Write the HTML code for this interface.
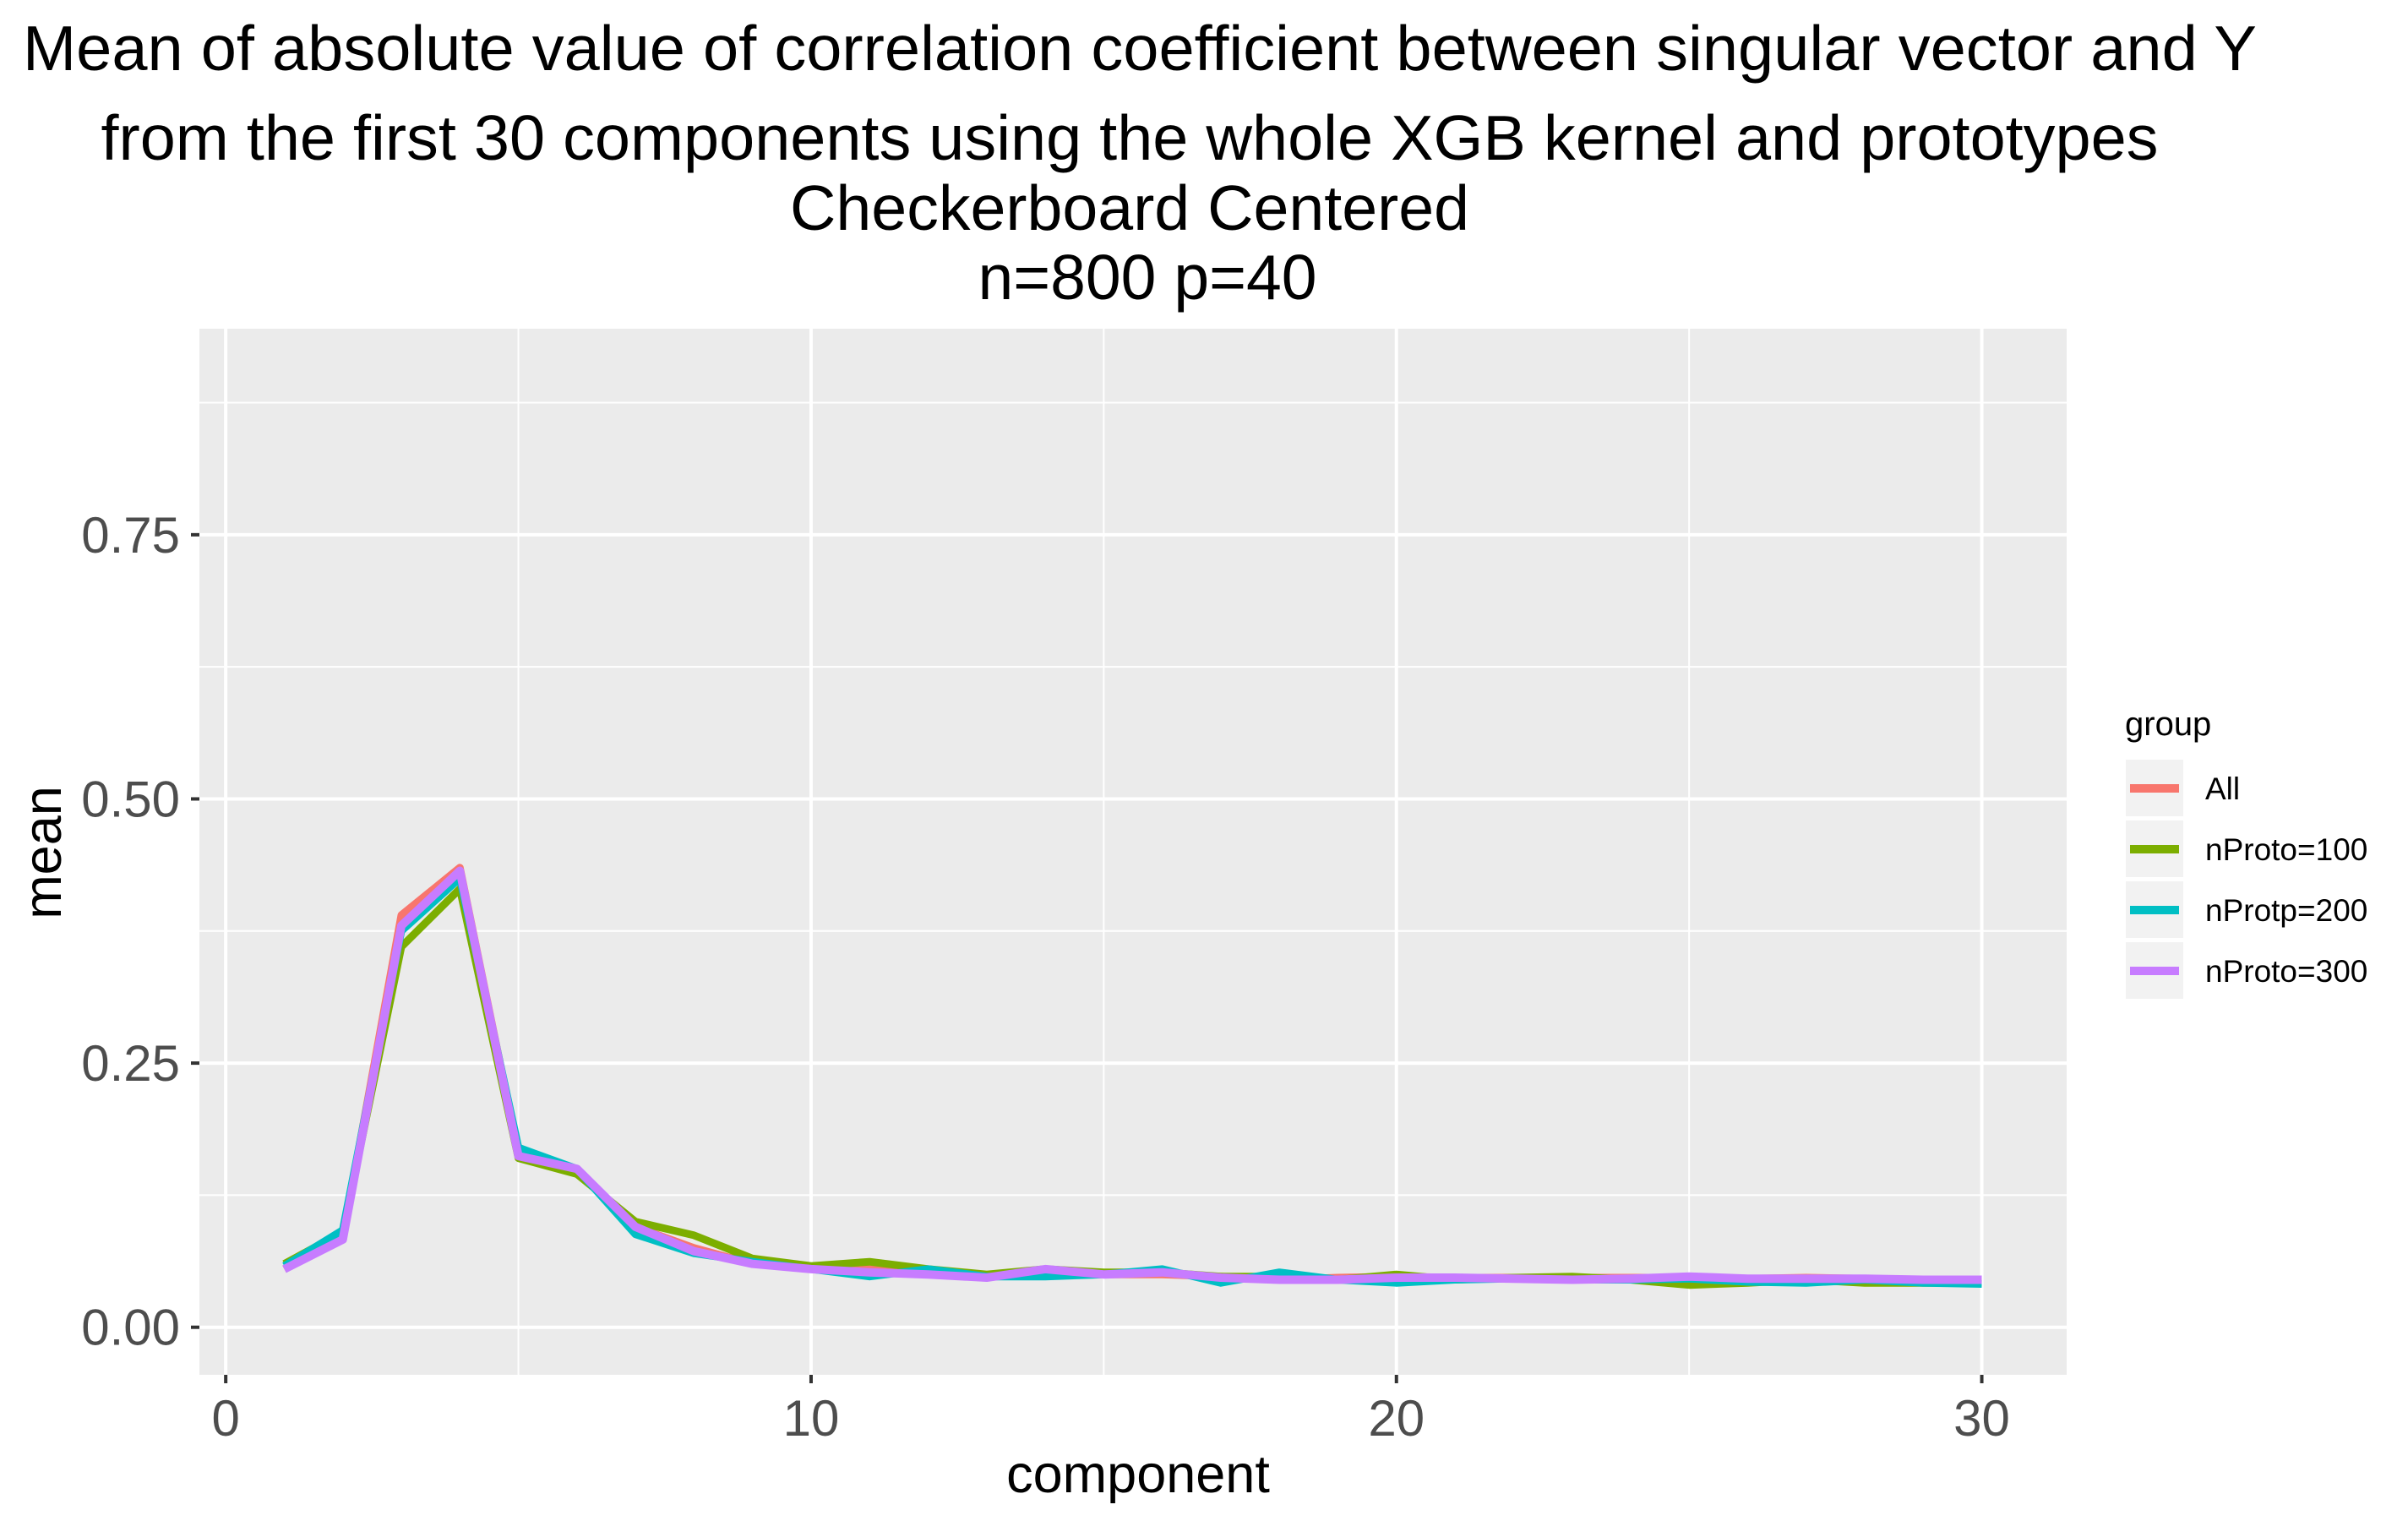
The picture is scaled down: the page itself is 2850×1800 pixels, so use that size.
<!DOCTYPE html>
<html><head><meta charset="utf-8"><style>
html,body{margin:0;padding:0;background:#fff;}
svg{display:block;font-family:"Liberation Sans",Arial,sans-serif;}
</style></head><body>
<svg id="chart" width="2850" height="1800" viewBox="0 0 2850 1800" xmlns="http://www.w3.org/2000/svg">
<rect x="0" y="0" width="2850" height="1800" fill="#fff"/>
<g font-size="75" fill="#000" text-anchor="middle">
<text x="1349" y="83" textLength="2644" lengthAdjust="spacingAndGlyphs">Mean of absolute value of correlation coefficient between singular vector and Y</text>
<text x="1337" y="189" textLength="2435" lengthAdjust="spacingAndGlyphs">from the first 30 components using the whole XGB kernel and prototypes</text>
<text x="1337" y="272" textLength="804" lengthAdjust="spacingAndGlyphs">Checkerboard Centered</text>
<text x="1358" y="354" textLength="401" lengthAdjust="spacingAndGlyphs">n=800 p=40</text>
</g>
<rect x="236" y="389" width="2210" height="1238" fill="#ebebeb"/>
<g id="grid"></g>
<g id="axes"></g>
<g id="series"></g>
<text x="1347" y="1766" font-size="63" text-anchor="middle" fill="#000">component</text>
<text x="0" y="0" font-size="63" text-anchor="middle" fill="#000" transform="translate(72,1009) rotate(-90)">mean</text>
<g id="legend">
<text x="2515" y="870" font-size="40" fill="#000">group</text>
</g>
</svg>
<script>
const components = [1,2,3,4,5,6,7,8,9,10,11,12,13,14,15,16,17,18,19,20,21,22,23,24,25,26,27,28,29,30];
const seriesNames = ["All","nProto=100","nProtp=200","nProto=300"];
const seriesColors = ["#F8766D","#7CAE00","#00BFC4","#C77CFF"];
const valuesAll = [0.055,0.085,0.39,0.435,0.165,0.15,0.095,0.075,0.06,0.055,0.055,0.05,0.048,0.05,0.05,0.05,0.048,0.045,0.047,0.048,0.047,0.047,0.047,0.047,0.047,0.046,0.047,0.046,0.045,0.045];
const valuesP100 = [0.06,0.09,0.36,0.415,0.16,0.145,0.1,0.087,0.065,0.058,0.062,0.055,0.05,0.055,0.052,0.052,0.048,0.048,0.045,0.05,0.045,0.047,0.048,0.045,0.04,0.042,0.045,0.042,0.042,0.042];
const valuesP200 = [0.058,0.092,0.375,0.425,0.17,0.15,0.088,0.07,0.062,0.055,0.048,0.055,0.048,0.048,0.05,0.055,0.042,0.052,0.045,0.042,0.045,0.046,0.045,0.045,0.046,0.043,0.042,0.045,0.042,0.041];
const valuesP300 = [0.055,0.083,0.38,0.432,0.162,0.15,0.095,0.072,0.06,0.055,0.052,0.05,0.047,0.055,0.05,0.052,0.047,0.045,0.045,0.047,0.047,0.046,0.045,0.046,0.048,0.046,0.046,0.046,0.045,0.045];
const xTicks = [0,10,20,30];
const xMinor = [5,15,25];
const yTicks = [0,0.25,0.5,0.75];
const yTickLabels = ["0.00","0.25","0.50","0.75"];
const yMinor = [0.125,0.375,0.625,0.875];

const NS="http://www.w3.org/2000/svg";
const PL=236,PR=2446,PT=389,PB=1627;
const xmin=-0.45,xmax=31.45,ymin=-0.045,ymax=0.945;
function xs(v){return PL+(v-xmin)/(xmax-xmin)*(PR-PL);}
function ys(v){return PB-(v-ymin)/(ymax-ymin)*(PB-PT);}
function mk(tag,attrs,parent){const e=document.createElementNS(NS,tag);for(const k in attrs)e.setAttribute(k,attrs[k]);parent.appendChild(e);return e;}
const grid=document.getElementById('grid'),axes=document.getElementById('axes'),ser=document.getElementById('series'),leg=document.getElementById('legend');
yMinor.forEach(v=>{const l=mk('line',{x1:PL,x2:PR,y1:ys(v),y2:ys(v),stroke:'#fff','stroke-width':2},grid);

});
xMinor.forEach(v=>{const l=mk('line',{x1:xs(v),x2:xs(v),y1:PT,y2:PB,stroke:'#fff','stroke-width':2},grid);

});
yTicks.forEach((v,i)=>{const l=mk('line',{x1:PL,x2:PR,y1:ys(v),y2:ys(v),stroke:'#fff','stroke-width':4},grid);


const t=mk('line',{x1:PL-10,x2:PL,y1:ys(v),y2:ys(v),stroke:'#333','stroke-width':4},axes);


const tx=mk('text',{x:213,y:ys(v)+21,'font-size':60,'text-anchor':'end',fill:'#4d4d4d'},axes);tx.textContent=yTickLabels[i];

});
xTicks.forEach(v=>{const l=mk('line',{x1:xs(v),x2:xs(v),y1:PT,y2:PB,stroke:'#fff','stroke-width':4},grid);


const t=mk('line',{x1:xs(v),x2:xs(v),y1:PB,y2:PB+10,stroke:'#333','stroke-width':4},axes);


const tx=mk('text',{x:xs(v),y:PB+72,'font-size':60,'text-anchor':'middle',fill:'#4d4d4d'},axes);tx.textContent=String(v);

});
const allValues=[valuesAll,valuesP100,valuesP200,valuesP300];
allValues.forEach((vals,s)=>{const pts=components.map((c,i)=>xs(c).toFixed(1)+','+ys(vals[i]).toFixed(1)).join(' ');
const p=mk('polyline',{points:pts,fill:'none',stroke:seriesColors[s],'stroke-width':s===3?10:9,'stroke-linejoin':'round'},ser);


const top=899+s*72;
const k=mk('rect',{x:2516,y:top,width:68,height:67,fill:'#f2f2f2'},leg);


const kl=mk('line',{x1:2521,x2:2579,y1:top+34,y2:top+34,stroke:seriesColors[s],'stroke-width':10},leg);


const lt=mk('text',{x:2610,y:top+47,'font-size':37,fill:'#000'},leg);lt.textContent=seriesNames[s];

});
</script>
</body></html>
